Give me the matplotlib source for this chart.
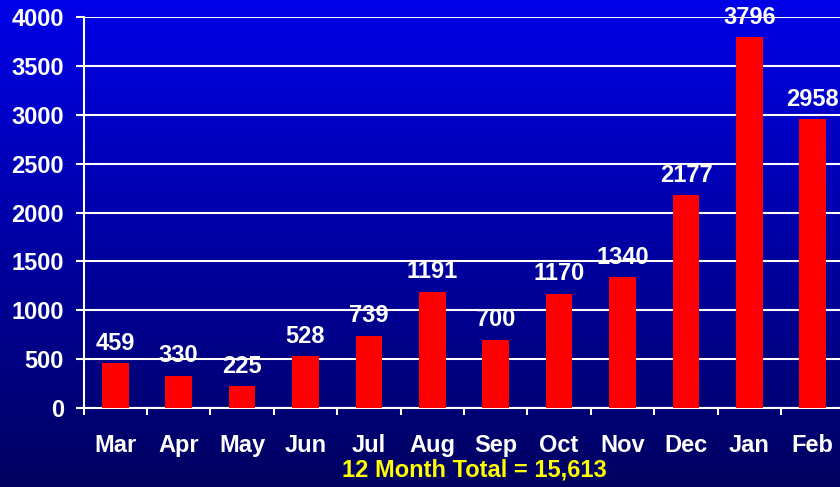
import matplotlib
matplotlib.use("Agg")
import matplotlib.pyplot as plt
import numpy as np
from matplotlib.colors import LinearSegmentedColormap

months = ["Mar", "Apr", "May", "Jun", "Jul", "Aug", "Sep", "Oct", "Nov", "Dec", "Jan", "Feb"]
values = [459, 330, 225, 528, 739, 1191, 700, 1170, 1340, 2177, 3796, 2958]
yticks = [0, 500, 1000, 1500, 2000, 2500, 3000, 3500, 4000]
total_text = "12 Month Total = 15,613"

plt.rcParams['font.family'] = ['Liberation Sans', 'DejaVu Sans']
plt.rcParams['font.weight'] = 'bold'

fig = plt.figure(figsize=(8.4, 4.87), dpi=100)

# background gradient
bg = fig.add_axes([0, 0, 1, 1], zorder=-10)
cmap = LinearSegmentedColormap.from_list("bg", ["#000060", "#0000E8"])
grad = np.linspace(0, 1, 256).reshape(-1, 1)
bg.imshow(grad, aspect='auto', cmap=cmap, origin='lower', extent=[0, 1, 0, 1])
bg.axis('off')

ax = fig.add_axes([83.5/840, 1-408/487, 761/840, 391/487])
ax.set_facecolor('none')
x = np.arange(len(months))
ax.bar(x, values, width=0.42, color='#FF0000', zorder=3)
ax.set_xlim(-0.5, len(months) - 0.5)
ax.set_ylim(0, 4000)

for xi, v in zip(x, values):
    ax.annotate(str(v), (xi, v), xytext=(0, 6), textcoords='offset points',
                ha='center', va='bottom', color='white', fontsize=17, fontweight='bold', zorder=4)

ax.set_yticks(yticks)
ax.set_yticklabels([str(t) for t in yticks])
ax.yaxis.grid(True, color='white', linewidth=1.5, zorder=1)
ax.tick_params(axis='y', colors='white', labelsize=17, length=6, width=1.5, pad=8)

ax.set_xticks(np.arange(-0.5, len(months), 1.0))
ax.set_xticklabels([])
ax.set_xticks(x, minor=True)
ax.set_xticklabels(months, minor=True)
ax.tick_params(axis='x', which='major', colors='white', length=5, width=1.5, direction='out')
ax.tick_params(axis='x', which='minor', colors='white', length=0, labelsize=17, pad=19)

for s in ['top', 'right']:
    ax.spines[s].set_visible(False)
for s in ['left', 'bottom']:
    ax.spines[s].set_color('white')
    ax.spines[s].set_linewidth(1.5)

fig.text(474/840, 1-470/487, total_text, color='#FFFF00', fontsize=17, fontweight='bold',
         ha='center', va='center')

fig.savefig("out.png", dpi=100)
